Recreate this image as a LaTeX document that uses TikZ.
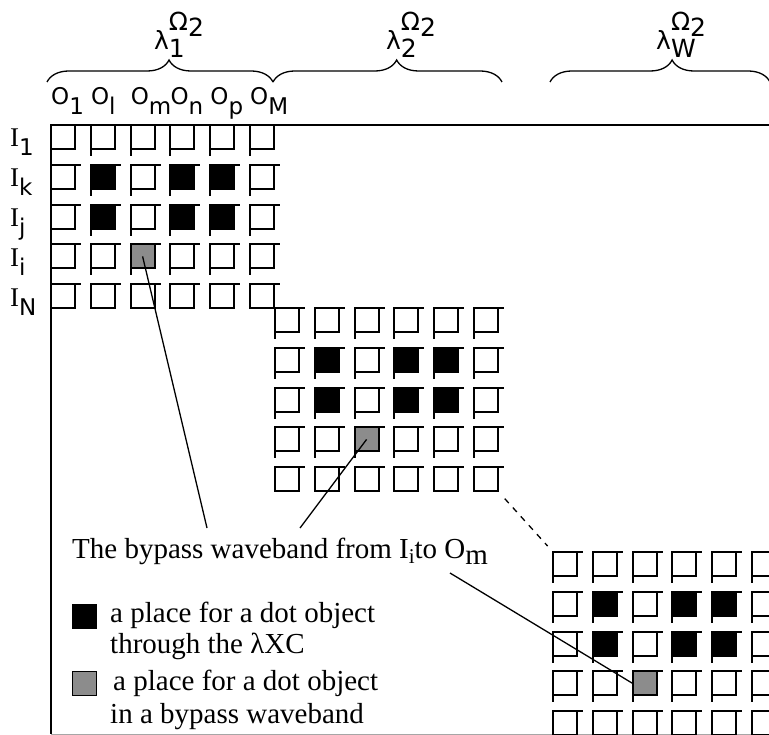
\documentclass[tikz,border=0pt]{standalone}
\usepackage{fontspec}
\setmainfont{Liberation Serif}
\setsansfont{DejaVu Sans}
\usetikzlibrary{decorations.pathreplacing,calc}
\newcommand{\lamlab}[1]{λ\rlap{\raisebox{-8pt}{#1}}\raisebox{19pt}{Ω\raisebox{-6pt}{2}}}
\tikzset{
  cell/.style={draw, line width=2pt, minimum size=24pt, inner sep=0pt, outer sep=0pt, anchor=north west},
  lab/.style={font=\sffamily\fontsize{23}{26}\selectfont, inner sep=0pt, anchor=base west},
  txt/.style={font=\fontsize{29}{32}\selectfont, inner sep=0pt, anchor=base west},
  wave/.style={decorate, decoration={brace, amplitude=22pt, aspect=0.54}, line width=1.3pt},
}
\begin{document}
\begin{tikzpicture}[x=1pt, y=-1pt]
  \path[use as bounding box, clip] (0,0) rectangle (769,735);
  % frame
  \draw[line width=2pt] (769,125) -- (51,125) -- (51,734);
  \draw[black!35, line width=1pt] (51,734) -- (769,734);
  % three blocks of 5 x 6 cells
  \foreach \bx/\by [count=\b] in {51/125, 275/308, 553/552} {
    \foreach \r in {1,...,5} {
      \foreach \c in {1,...,6} {
        \node[cell] (b\b-\r-\c) at ({\bx+39.8*(\c-1)},{\by+39.8*(\r-1)}) {};
        \draw[line width=2pt] (b\b-\r-\c.north east) -- ++(6,0);
        \ifnum\r<5 \draw[line width=2pt] (b\b-\r-\c.south west) -- ++(0,7); \fi
      }
    }
    \foreach \r/\c in {2/2, 2/4, 2/5, 3/2, 3/4, 3/5}
      \fill (b\b-\r-\c.north west) rectangle (b\b-\r-\c.south east);
    \fill[black!45] (b\b-4-3.north west) rectangle (b\b-4-3.south east);
    \draw[line width=2pt] (b\b-4-3.north west) rectangle (b\b-4-3.south east);
  }
  % braces and wavelength labels
  \draw[wave] (47,82) -- (273,82);
  \draw[wave] (273,82) -- (502,82);
  \draw[wave, decoration={aspect=0.555}] (550,82) -- (770,82);
  \foreach \x/\s [count=\k] in {154/1, 386/2, 656/W}
    \node[lab, font=\sffamily\fontsize{25}{28}\selectfont] (lam\k) at (\x,50) {\lamlab{\s}};
  % output and input labels
  \foreach \s [count=\c] in {1,l,m,n,p,M}
    \node[lab] (o\c) at ({51+39.8*(\c-1)},105) {O\raisebox{-10pt}{\s}};
  \foreach \s [count=\r] in {1,k,j,i,N}
    \node[lab] (in\r) at (10,{125+39.8*(\r-1)+22}) {{\rmfamily\fontsize{27}{28}\selectfont I}\raisebox{-9pt}{\s}};
  % caption and legend
  \node[txt] (bypass) at (72,558) {The bypass waveband from I\raisebox{-5pt}{\fontsize{21}{21}\selectfont i}to O\raisebox{-6pt}{m}};
  \coordinate (t1) at (207,528);
  \coordinate (t2) at (300,528);
  \coordinate (t3) at (450,573);
  \draw[line width=1.3pt] (b1-4-3.center) -- (t1);
  \draw[line width=1.3pt] (b2-4-3.center) -- (t2);
  \draw[line width=1.3pt] (t3) -- (b3-4-3.west);
  \draw[line width=1.3pt, dashed, dash pattern=on 6pt off 6pt, shorten <=10pt, shorten >=8pt] (b2-5-6.south east) -- (b3-1-1.north west);
  \node[draw, fill=black, line width=1.3pt, minimum size=24pt, inner sep=0pt, anchor=north west] (keyx) at (72,604) {};
  \node[txt] (l1) at (110,622) {a place for a dot object};
  \node[txt] (l2) at (110,653) {through the λXC};
  \node[draw, fill=black!45, line width=1.3pt, minimum size=24pt, inner sep=0pt, anchor=north west] (keyb) at (72,671) {};
  \node[txt] (l3) at (113,690) {a place for a dot object};
  \node[txt] (l4) at (110,723) {in a bypass waveband};
\end{tikzpicture}
\end{document}
